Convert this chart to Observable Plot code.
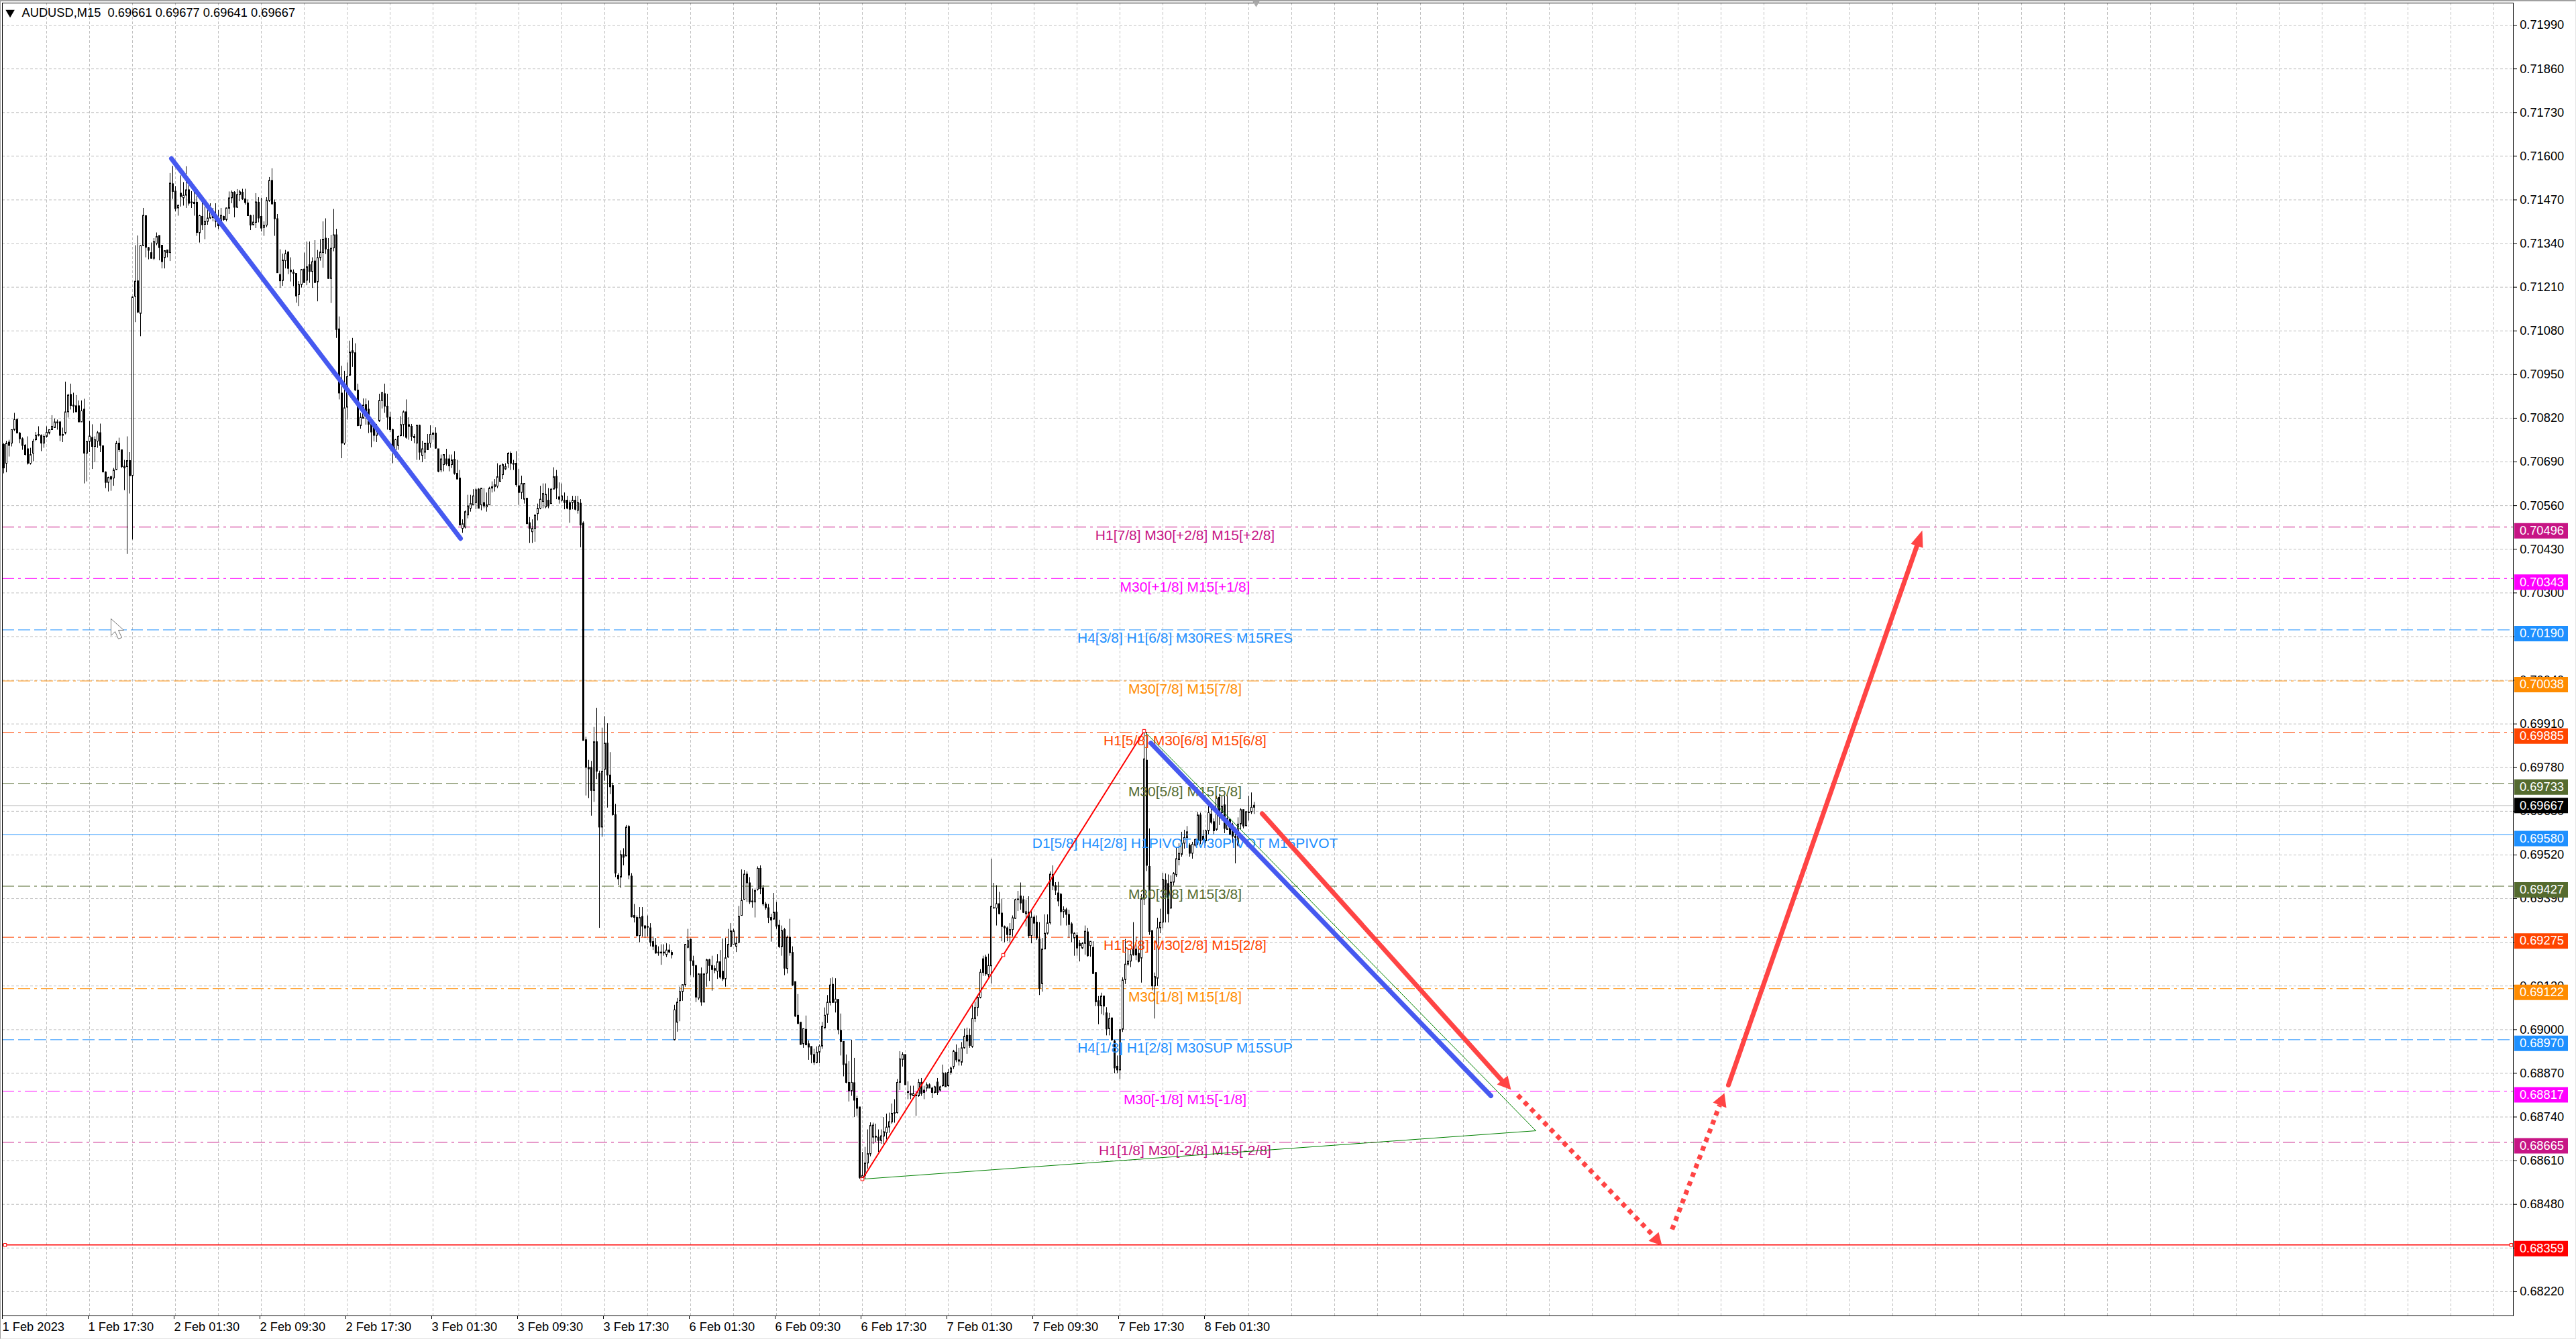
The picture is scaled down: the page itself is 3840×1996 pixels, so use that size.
<!DOCTYPE html>
<html><head><meta charset="utf-8">
<script src="https://cdn.jsdelivr.net/npm/d3@7"></script>
<script src="https://cdn.jsdelivr.net/npm/@observablehq/plot@0.6"></script>
<style>
html,body{margin:0;padding:0;background:#fff;overflow:hidden}
#chart{position:absolute;left:0;top:0;width:3840px;height:1996px}
#chart svg{display:block}
#win{position:absolute;left:0;top:0;width:3838px;height:1993px;border-top:2px solid #a0a0a0;border-left:1px solid #a0a0a0;border-right:1px solid #e4e4e4;border-bottom:1px solid #e4e4e4;pointer-events:none}
</style></head><body>
<div id="chart"></div><div id="win"></div>
<script>
// Candles as rows of open, high, low, close (price x 100000)
const bars1Feb = [
70741,70745,70655,70671, 70685,70752,70658,70745, 70748,70755,70705,70738, 70745,70785,70735,70785,
70785,70835,70781,70815, 70815,70818,70775,70775, 70775,70778,70745,70758, 70758,70762,70725,70738,
70739,70742,70708,70711, 70728,70765,70681,70685, 70685,70731,70681,70711, 70715,70758,70691,70751,
70755,70778,70751,70768, 70771,70795,70765,70768, 70768,70771,70721,70745, 70745,70771,70731,70765,
70765,70795,70761,70777, 70775,70785,70771,70785, 70785,70828,70785,70795, 70791,70818,70791,70808,
70805,70815,70785,70808, 70808,70811,70751,70768, 70771,70791,70748,70768, 70775,70928,70771,70838,
70838,70892,70821,70888, 70890,70922,70845,70857, 70858,70895,70835,70855, 70856,70888,70838,70838,
70856,70872,70808,70808, 70808,70872,70808,70841, 70846,70877,70625,70715, 70715,70751,70631,70750,
70750,70811,70718,70766, 70762,70801,70668,70735, 70735,70765,70688,70755, 70751,70781,70731,70776,
70776,70803,70718,70738, 70737,70738,70658,70659, 70659,70661,70611,70628, 70628,70645,70601,70643,
70645,70648,70603,70638, 70641,70671,70618,70665, 70666,70752,70665,70745, 70745,70761,70718,70725,
70725,70725,70671,70675, 70676,70695,70605,70671, 70675,70765,70415,70693, 70693,70718,70595,70648,
70648,71182,70458,71180, 71182,71334,71105,71227, 71228,71363,71132,71135, 71131,71334,71063,71333,
71333,71445,71332,71423, 71422,71423,71298,71328, 71327,71329,71292,71319, 71312,71342,71294,71295,
71295,71355,71290,71345, 71340,71372,71334,71360, 71363,71363,71289,71327, 71334,71335,71265,71285,
71297,71319,71265,71318, 71320,71321,71298,71312, 71312,71549,71287,71519];
const bars2Feb = [
71517,71570,71472,71494, 71495,71510,71435,71443, 71445,71455,71422,71453, 71489,71542,71449,71479,
71475,71522,71452,71483, 71483,71569,71445,71499, 71499,71522,71452,71459, 71463,71495,71445,71460,
71462,71499,71422,71458, 71462,71485,71362,71372, 71371,71425,71342,71422, 71420,71462,71379,71395,
71396,71449,71352,71405, 71405,71449,71395,71415, 71415,71459,71412,71432, 71420,71445,71405,71416,
71405,71459,71387,71415, 71402,71439,71382,71392, 71402,71445,71389,71423, 71420,71422,71407,71410,
71410,71446,71405,71445, 71444,71494,71427,71475, 71475,71497,71459,71492, 71492,71495,71417,71447,
71447,71501,71445,71485, 71485,71499,71465,71493, 71492,71502,71469,71472, 71472,71502,71455,71461,
71460,71470,71422,71422, 71422,71425,71379,71394, 71395,71425,71393,71403, 71402,71489,71385,71463,
71462,71477,71402,71415, 71420,71475,71375,71385, 71387,71405,71362,71393, 71394,71477,71388,71467,
71467,71537,71463,71527, 71527,71563,71455,71457, 71462,71470,71362,71413, 71413,71427,71252,71252,
71247,71322,71207,71228, 71229,71309,71213,71290, 71288,71320,71265,71309, 71314,71316,71248,71265,
71260,71298,71226,71255, 71254,71262,71212,71250, 71250,71250,71163,71183, 71187,71227,71153,71217,
71217,71263,71208,71262, 71263,71312,71222,71223, 71230,71345,71215,71270, 71276,71345,71222,71256,
71256,71298,71207,71285, 71287,71349,71222,71223, 71225,71320,71167,71297, 71297,71352,71288,71314,
71312,71405,71267,71352, 71355,71414,71308,71323, 71322,71355,71234,71235, 71235,71365,71162,71325,
71326,71442,71316,71365, 71365,71383,71058,71083, 71085,71122,70875,70894, 70894,70975,70700,70745,
70745,70960,70740,70850, 70852,70985,70815,70943, 70947,71050,70945,71016, 71020,71058,70972,71014,
71014,71042,70900,70903, 70903,70922,70795,70797, 70797,70835,70788,70822, 70819,70878,70818,70858,
70860,70878,70800,70838];
const bars3Feb = [
70846,70872,70775,70801, 70801,70818,70733,70778, 70795,70808,70750,70768, 70768,70802,70748,70792,
70811,70892,70808,70872, 70872,70898,70848,70895, 70892,70922,70835,70855, 70855,70892,70785,70822,
70822,70838,70778,70785, 70785,70788,70685,70725, 70725,70758,70702,70755, 70738,70768,70725,70765,
70767,70825,70765,70800, 70800,70842,70765,70838, 70838,70875,70758,70762, 70800,70822,70755,70795,
70795,70802,70752,70765, 70765,70772,70745,70761, 70745,70799,70695,70798, 70798,70800,70695,70718,
70708,70752,70688,70728, 70718,70746,70698,70745, 70745,70772,70725,70725, 70745,70798,70731,70771,
70771,70778,70755,70775, 70775,70792,70728,70730, 70728,70728,70658,70661, 70665,70711,70658,70698,
70681,70711,70661,70711, 70698,70728,70678,70683, 70698,70711,70661,70677, 70681,70711,70671,70695,
70697,70721,70651,70655, 70655,70695,70638,70638, 70641,70665,70501,70501, 70491,70518,70478,70505,
70495,70545,70491,70541, 70531,70591,70521,70558, 70551,70591,70541,70565, 70561,70608,70561,70588,
70568,70611,70548,70606, 70608,70611,70551,70551, 70561,70611,70545,70611, 70568,70611,70551,70558,
70555,70598,70541,70561, 70561,70615,70561,70611, 70611,70631,70598,70615, 70615,70638,70601,70621,
70617,70685,70611,70645, 70631,70681,70631,70678, 70651,70685,70638,70681, 70668,70685,70665,70675,
70685,70718,70671,70715, 70715,70720,70665,70685, 70685,70695,70665,70682, 70685,70721,70615,70621,
70618,70668,70561,70598, 70598,70648,70578,70625, 70578,70625,70565,70625, 70581,70581,70505,70505,
70508,70525,70448,70491, 70481,70518,70448,70491, 70491,70531,70451,70531, 70535,70565,70515,70551,
70551,70618,70548,70578, 70571,70625,70551,70595, 70555,70625,70551,70593, 70575,70611,70551,70558,
70565,70611,70565,70608, 70608,70673,70608,70645, 70646,70665,70578,70611, 70585,70628,70565,70578,
70575,70625,70571,70588, 70575,70598,70548,70568, 70575,70588,70548,70551, 70568,70575,70508,70548,
70568,70588,70548,70575, 70575,70588,70545,70548, 70545,70588,70535,70568, 70566,70578,70435,70501];
const bars6Feb = [
70507,70512,69860,69860, 69862,69871,69696,69780, 69775,69802,69688,69780, 69780,69799,69636,69711,
69711,69900,69677,69856, 69856,69957,69745,69768, 69762,69770,69302,69602, 69602,69898,69573,69768,
69774,69932,69740,69852, 69852,69911,69660,69757, 69757,69825,69700,69722, 69726,69734,69636,69639,
69639,69671,69453,69465, 69459,69465,69430,69448, 69453,69533,69421,69520, 69520,69539,69488,69512,
69516,69608,69516,69602, 69604,69608,69447,69459, 69456,69465,69333,69335, 69339,69373,69318,69333,
69333,69339,69276,69279, 69279,69364,69259,69333, 69336,69364,69276,69307, 69308,69310,69272,69301,
69306,69339,69276,69304, 69302,69316,69247,69259, 69261,69276,69236,69247, 69250,69272,69225,69227,
69230,69247,69219,69227, 69227,69253,69192,69230, 69230,69253,69219,69227, 69222,69256,69215,69236,
69236,69253,69227,69230, 69229,69236,69211,69222, 68969,69073,68967,69058, 69021,69093,68993,69081,
69085,69127,69024,69112, 69112,69133,69085,69133, 69133,69253,69127,69253, 69244,69299,69241,69264,
69268,69270,69161,69204, 69204,69219,69155,69190, 69190,69190,69081,69096, 69093,69167,69087,69165,
69165,69184,69070,69081, 69081,69167,69081,69165, 69167,69210,69127,69207, 69207,69210,69144,69190,
69190,69219,69115,69178, 69181,69190,69167,69176, 69173,69224,69150,69201, 69201,69236,69150,69155,
69173,69270,69144,69150, 69150,69272,69127,69213, 69215,69299,69213,69253, 69247,69316,69247,69293,
69253,69299,69253,69293, 69247,69276,69230,69256, 69259,69367,69256,69336, 69339,69476,69339,69384,
69387,69474,69385,69462, 69462,69470,69379,69436, 69436,69453,69373,69379, 69382,69419,69362,69379,
69379,69419,69333,69413, 69417,69485,69413,69479, 69479,69488,69402,69419, 69421,69430,69367,69373,
69373,69379,69356,69362, 69362,69373,69316,69333, 69333,69344,69261,69325, 69328,69406,69326,69349,
69349,69379,69299,69307, 69310,69326,69242,69246, 69246,69309,69219,69294, 69297,69302,69161,69182,
69181,69279,69166,69274, 69274,69329,69219,69228, 69229,69247,69129,69132, 69142,69142,69037,69039,
69042,69105,69017,69017, 69021,69021,68954,68955, 68957,69002,68945,69002, 69000,69041,68952,68954,
68957,68967,68909,68947, 68949,68949,68899,68925, 68925,68942,68894,68902, 68901,68949,68899,68932,
68932,68955,68899,68950, 68950,69022,68942,69009, 69004,69065,69002,69042, 69044,69102,69019,69081,
69080,69152,69071,69132, 69134,69155,69080,69080, 69080,69152,69050,69090, 69089,69089,68985,68999,
68997,69047,68922,68964, 68964,68964,68860,68895, 68897,68925,68839,68842, 68842,68905,68785,68817,
68817,68969,68802,68842, 68841,68915,68739,68789, 68794,68802,68742,68765, 68769,68769,68555,68559];
const bars7Feb = [
68559,68635,68552,68565, 68565,68650,68555,68602, 68602,68702,68585,68630, 68629,68723,68622,68714,
68679,68722,68659,68715, 68682,68719,68665,68679, 68679,68702,68635,68669, 68669,68702,68659,68683,
68682,68739,68659,68695, 68692,68749,68672,68709, 68709,68752,68692,68725, 68724,68779,68719,68750,
68752,68792,68722,68750, 68752,68852,68749,68842, 68842,68935,68819,68912, 68910,68932,68889,68925,
68925,68925,68835,68835, 68815,68845,68792,68812, 68809,68832,68792,68805, 68802,68832,68802,68809,
68805,68812,68742,68802, 68802,68852,68799,68842, 68842,68855,68802,68809, 68819,68832,68792,68812,
68825,68842,68815,68835, 68835,68839,68825,68825, 68825,68829,68795,68812, 68812,68832,68809,68829,
68843,68855,68805,68812, 68819,68832,68815,68829, 68832,68895,68829,68870, 68869,68872,68829,68829,
68832,68882,68829,68872, 68872,68889,68865,68885, 68889,68939,68882,68935, 68932,68955,68902,68909,
68909,68945,68892,68905, 68902,68962,68892,68945, 68945,69002,68942,68979, 68982,69005,68927,68965,
68982,69002,68945,68952, 68949,69075,68945,69032, 69032,69082,69022,69065, 69065,69102,69039,69095,
69095,69179,69092,69170, 69210,69219,69159,69169, 69215,69222,69159,69165, 69162,69225,69155,69190,
69189,69508,69136,69366, 69362,69436,69359,69361, 69361,69429,69309,69374, 69374,69409,69342,69344,
69346,69389,69262,69306, 69306,69309,69259,69302, 69302,69306,69262,69282, 69282,69316,69259,69297,
69297,69339,69276,69332, 69330,69389,69329,69386, 69386,69412,69352,69388, 69397,69437,69356,69376,
69386,69397,69346,69348, 69344,69386,69306,69350, 69349,69396,69272,69279, 69279,69352,69256,69334,
69334,69339,69276,69316, 69319,69339,69266,69272, 69269,69319,69102,69122, 69136,69272,69112,69239,
69239,69342,69239,69286, 69286,69342,69282,69317, 69317,69470,69312,69462, 69461,69488,69414,69428,
69428,69438,69400,69414, 69406,69439,69366,69382, 69402,69406,69309,69350, 69350,69366,69332,69356,
69356,69362,69309,69342, 69342,69356,69272,69312, 69314,69319,69259,69286, 69272,69289,69219,69286,
69279,69289,69219,69242, 69256,69266,69202,69249, 69242,69259,69239,69256, 69256,69309,69222,69292,
69290,69302,69216,69219, 69249,69262,69216,69262, 69244,69262,69166,69166, 69169,69169,69069,69082,
69085,69099,69015,69070, 69070,69109,69045,69099, 69099,69099,69042,69069, 69049,69066,68982,69001,
69002,69049,68982,69032, 69034,69035,68965,68969, 68965,68969,68869,68885, 68890,68922,68869,68879,
68879,68999,68852,68999, 69000,69155,68992,69147, 69148,69269,69135,69194, 69194,69239,69189,69203,
69203,69239,69185,69222, 69239,69319,69219,69222, 69239,69276,69206,69221, 69226,69239,69199,69202,
69212,69402,69139,69389, 69388,69891,69370,69805, 69801,69885,69471,69488, 69485,69598,69281,69291,
69294,69294,69116,69129, 69129,69169,69032,69157, 69152,69332,69129,69302, 69302,69359,69286,69319];
const bars8Feb = [
69319,69466,69301,69446, 69444,69464,69318,69394, 69434,69461,69318,69344, 69361,69458,69358,69438,
69438,69468,69428,69464, 69460,69541,69454,69508, 69505,69554,69488,69524, 69521,69588,69514,69554,
69554,69594,69538,69571, 69571,69605,69568,69588, 69548,69554,69514,69524, 69524,69558,69508,69551,
69548,69568,69544,69565, 69563,69647,69548,69638, 69638,69645,69551,69561, 69575,69594,69555,69564,
69561,69594,69555,69591, 69591,69664,69581,69645, 69641,69671,69611,69616, 69618,69628,69581,69591,
69595,69695,69591,69688, 69691,69701,69608,69648, 69645,69695,69621,69664, 69668,69695,69584,69598,
69595,69698,69595,69628, 69625,69628,69578,69581, 69608,69615,69555,69575, 69575,69601,69494,69571,
69548,69631,69544,69611, 69611,69658,69595,69654, 69654,69655,69598,69605, 69606,69649,69604,69648,
69647,69695,69621,69645, 69647,69705,69641,69661, 69661,69677,69641,69667];

// Axis values
const priceTicks = [71990,71860,71730,71600,71470,71340,71210,71080,70950,70820,70690,70560,70430,70300,70170,70040,69910,69780,69650,69520,69390,69260,69130,69000,68870,68740,68610,68480,68350,68220];
const timeTickBars = [0,32,64,96,128,160,192,224,256,288,320,352,384,416,448];
const timeTickLabels = ["1 Feb 2023","1 Feb 17:30","2 Feb 01:30","2 Feb 09:30","2 Feb 17:30","3 Feb 01:30","3 Feb 09:30","3 Feb 17:30","6 Feb 01:30","6 Feb 09:30","6 Feb 17:30","7 Feb 01:30","7 Feb 09:30","7 Feb 17:30","8 Feb 01:30"];

// Murrey levels
const levelPrices = [70496,70343,70190,70038,69885,69733,69580,69427,69275,69122,68970,68817,68665];
const levelColors = ["#C71585","#FF00FF","#1E90FF","#FF8C00","#FF4500","#556B2F","#1E90FF","#556B2F","#FF4500","#FF8C00","#1E90FF","#FF00FF","#C71585"];
const levelDashes = ["18,6,4,6","18,6,4,6","18,6","18,6,18,6,4,6","18,6,4,6","18,6,18,6,4,6","none","18,6,18,6,4,6","18,6,4,6","18,6,18,6,4,6","18,6","18,6,4,6","18,6,4,6"];
const levelTexts = ["H1[7/8] M30[+2/8] M15[+2/8]","M30[+1/8] M15[+1/8]","H4[3/8] H1[6/8] M30RES M15RES","M30[7/8] M15[7/8]","H1[5/8] M30[6/8] M15[6/8]","M30[5/8] M15[5/8]","D1[5/8] H4[2/8] H1PIVOT M30PIVOT M15PIVOT","M30[3/8] M15[3/8]","H1[3/8] M30[2/8] M15[2/8]","M30[1/8] M15[1/8]","H4[1/8] H1[2/8] M30SUP M15SUP","M30[-1/8] M15[-1/8]","H1[1/8] M30[-2/8] M15[-2/8]"];
const supportPrice = 68359, lastPrice = 69667;
const headerText = "AUDUSD,M15\u00a0\u00a00.69661 0.69677 0.69641 0.69667";

// Drawn objects: [bar, price x 100000]
const blueLine1 = [[62.5,71593],[170.25,70462]];
const blueLine2 = [[427.5,69853],[554.25,68803]];
const redSolid1 = [[469,69643],[558.75,68845]];
const redDotted1 = [[564.25,68805],[615,68385]];
const redDotted2 = [[621.75,68405],[639.5,68775]];
const redSolid2 = [[642.75,68835],[713,70440]];
const arrowHeads = [
  [[561.75,68821],[556.5,68837],[560.5,68863]],
  [[618,68357],[613,68371],[616.75,68397]],
  [[641.25,68811],[637,68783],[642,68767]],
  [[715,70486],[710.75,70446],[715.25,70434]]];
const redTrend = [[320,68555],[425,69889]];
const greenTriangle = [[320,68555],[571,68699],[425,69889]];
const redAnchors = [[320,68555],[372.5,69222],[425,69889],[0.5,68359],[934.5,68359]];
const mouseCursor = [[40,70223],[40,70173],[41.5,70185],[42.75,70163],[44,70167],[42.75,70189],[44.75,70189],[40,70223]];

const num = v => v / 1e5;
const flat = [...bars1Feb, ...bars2Feb, ...bars3Feb, ...bars6Feb, ...bars7Feb, ...bars8Feb];
const candles = d3.range(Math.floor(flat.length / 4)).map(i => ({
  i, o: num(flat[4*i]), h: num(flat[4*i+1]), l: num(flat[4*i+2]), c: num(flat[4*i+3])
}));
const levels = levelPrices.map((p, k) => ({p: num(p), color: levelColors[k], dash: levelDashes[k], text: levelTexts[k]}));
const tags = [
  ...levels.map(d => ({p: d.p, color: d.color, dy: 5.5})),
  {p: num(supportPrice), color: "#FF0000", dy: 5.5},
  {p: num(lastPrice), color: "#000000", dy: 0}
];
const pts = a => a.map(([x, y]) => ({x, y: num(y)}));
const FONT = "Liberation Sans, Arial, sans-serif";
const tagX1 = 935.75, tagX2 = 955.75, tagTextX = 937.6, labelX = 440.25;
const grey = "#c0c0c0";
const gridBars = d3.range(16, 935, 16);

const thick = (a, color, extra = {}) => Plot.line(pts(a), {x: "x", y: "y", stroke: color, strokeWidth: 7, strokeLinecap: "round", ...extra});

const chart = Plot.plot({
  width: 3840, height: 1996,
  marginLeft: 3, marginRight: 94, marginTop: 4, marginBottom: 35,
  style: {background: "#fff", fontFamily: FONT, fontSize: "18.3px", color: "#000"},
  x: {type: "linear", domain: [-0.5, 935.25], range: [3, 3746]},
  y: {type: "linear", domain: [0.72056, 0.68148], range: [4, 1961]},
  marks: [
    Plot.gridX(gridBars, {stroke: grey, strokeOpacity: 1, strokeDasharray: "4,3"}),
    Plot.gridY(priceTicks.map(num), {stroke: grey, strokeOpacity: 1, strokeDasharray: "4,3"}),
    ...levels.map(d => Plot.ruleY([d.p], {stroke: d.color, strokeWidth: 1, strokeDasharray: d.dash})),
    Plot.ruleY([num(lastPrice)], {stroke: grey, strokeWidth: 1}),
    Plot.ruleY([num(supportPrice)], {stroke: "#ff0000", strokeWidth: 1.5}),
    Plot.ruleX(candles, {x: "i", y1: "l", y2: "h", stroke: "#000", strokeWidth: 1}),
    Plot.rect(candles, {x1: d => d.i - 0.25, x2: d => d.i + 0.25, y1: "o", y2: "c",
      fill: d => d.c >= d.o ? "#fff" : "#000", stroke: "#000", strokeWidth: 1, dx: 0.5}),
    Plot.text(levels, {x: labelX, y: "p", text: "text", fill: "color", fontSize: 21, dy: 12.5, textAnchor: "middle"}),
    Plot.line(pts(greenTriangle), {x: "x", y: "y", stroke: "#008000", strokeWidth: 1}),
    Plot.line(pts(redTrend), {x: "x", y: "y", stroke: "#ff0000", strokeWidth: 2}),
    Plot.dot(pts(redAnchors), {x: "x", y: "y", symbol: "square", r: 2.6, stroke: "#ff0000", strokeWidth: 1, fill: "#fff"}),
    thick(blueLine1, "#4659F0"),
    thick(blueLine2, "#4659F0"),
    thick(redSolid1, "#FF4444"),
    thick(redDotted1, "#FF4444", {strokeLinecap: "butt", strokeDasharray: "7,7"}),
    thick(redDotted2, "#FF4444", {strokeLinecap: "butt", strokeDasharray: "7,7"}),
    thick(redSolid2, "#FF4444"),
    ...arrowHeads.map(h => Plot.line(pts(h), {x: "x", y: "y", fill: "#FF4444", stroke: "none"})),
    Plot.line(pts(mouseCursor), {x: "x", y: "y", stroke: "#777", strokeWidth: 1, fill: "#fff"}),
    Plot.axisX(timeTickBars, {anchor: "bottom", tickSize: 5, tickPadding: 4, label: null, fontSize: 18.3,
      textAnchor: "start", dx: -2, tickFormat: b => timeTickLabels[timeTickBars.indexOf(b)]}),
    Plot.axisY(priceTicks.map(num), {anchor: "right", tickSize: 5, tickPadding: 4.7, label: null, fontSize: 18.3,
      tickFormat: v => v.toFixed(5)}),
    Plot.frame({stroke: "#000", strokeWidth: 1}),
    ...tags.map(t => Plot.ruleY([t.p], {x1: tagX1, x2: tagX2, stroke: t.color, strokeWidth: 23, dy: t.dy})),
    ...tags.map(t => Plot.text([t.p], {x: tagTextX, y: d => d, text: d => d.toFixed(5), fill: "#fff", fontSize: 18.3, textAnchor: "start", dy: t.dy})),
    Plot.text([headerText], {x: 6.75, y: 0.72026, text: d => d, fill: "#000", fontSize: 18.3, textAnchor: "start"}),
    Plot.dot([0], {x: 2.4, y: 0.72028, symbol: "triangle", r: 5, fill: "#000", rotate: 180}),
    Plot.dot([0], {x: 466.75, y: 0.72062, symbol: "triangle", r: 6, fill: "#a8a8a8", rotate: 180})
  ]
});
document.getElementById("chart").appendChild(chart);
</script></body></html>
